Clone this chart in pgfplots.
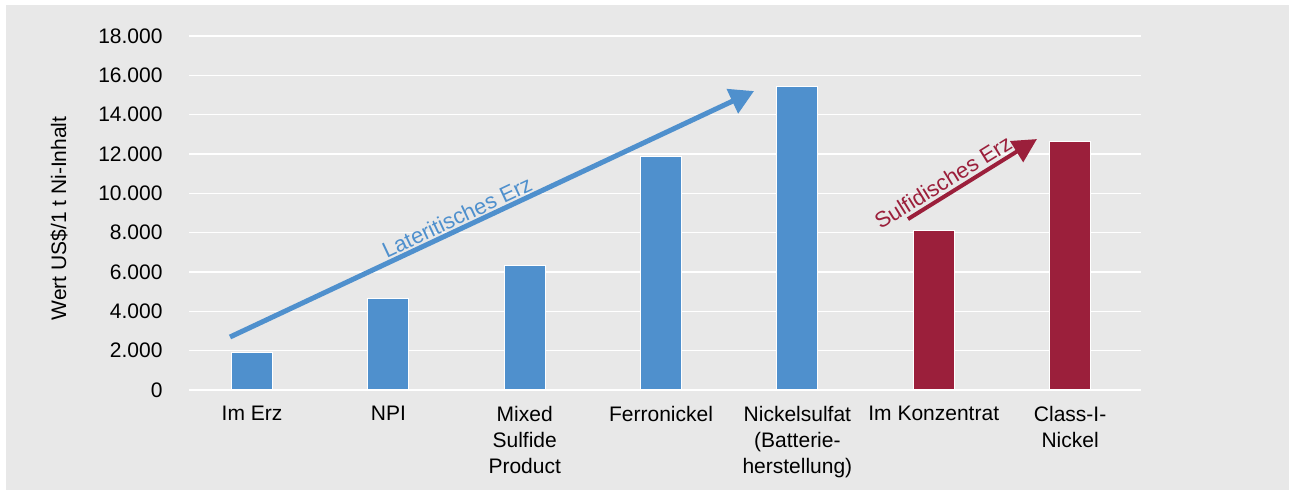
\documentclass[border=0pt]{standalone}
\usepackage{pgfplots}
\pgfplotsset{compat=1.18}
\usepackage{fontspec}
\setmainfont{Liberation Sans}
\usetikzlibrary{arrows.meta}
\definecolor{bgray}{RGB}{232,232,232}
\definecolor{nblue}{RGB}{79,144,205}
\definecolor{nred}{RGB}{155,31,59}
\begin{document}
\begin{tikzpicture}[x=1pt,y=1pt]
\fill[white] (0,0) rectangle (644.5,245.5);
\fill[bgray] (3,0.5) rectangle (644.5,243);
\begin{axis}[
  at={(94.5pt,50.5pt)}, anchor=south west,
  width=476pt, height=177pt, scale only axis,
  xmin=-0.462, xmax=6.52, ymin=0, ymax=18000,
  ytick={0,2000,...,18000},
  xtick={0,...,6},
  xticklabels={Im Erz, NPI, {Mixed\\Sulfide\\Product}, Ferronickel, {Nickelsulfat\\(Batterie-\\herstellung)}, Im Konzentrat, {Class-I-\\Nickel}},
  axis line style={draw=none},
  major tick length=0pt,
  ymajorgrids, grid style={white, line width=0.8pt},
  scaled y ticks=false,
  /pgf/number format/assume math mode=true,
  yticklabel style={/pgf/number format/.cd, 1000 sep={.}, /tikz/.cd, font=\fontsize{10.5}{13}\selectfont, xshift=-9.7pt},
  xticklabel style={align=center, font=\fontsize{10.5}{13}\selectfont, yshift=-4.5pt},
  ylabel={Wert US\$/1 t Ni-Inhalt},
  ylabel style={at={(axis description cs:-0.1366,0.4845)}, anchor=center, font=\fontsize{10.5}{13}\selectfont},
  clip=false,
]
\addplot[ybar, bar width=20.5pt, bar shift=0pt, fill=nblue, draw=white, line width=0.5pt]
  coordinates {(0,1900) (1,4630) (2,6330) (3,11860) (4,15450)};
\addplot[ybar, bar width=20.5pt, bar shift=0pt, fill=nred, draw=white, line width=0.5pt]
  coordinates {(5,8130) (6,12610)};
\draw[nblue, line width=2.5pt, -{Triangle[length=12pt,width=13pt]}] (axis cs:-0.161,2695) -- (axis cs:3.682,15200);
\draw[nred, line width=2pt, -{Triangle[length=12pt,width=12pt]}] (axis cs:4.811,8690) -- (axis cs:5.757,12760);
\node[nblue, rotate=25.2, font=\fontsize{11}{13}\selectfont] at (axis cs:1.504,8795) {Lateritisches Erz};
\node[nred, rotate=31.8, font=\fontsize{11}{13}\selectfont] at (axis cs:5.068,10575) {Sulfidisches Erz};
\end{axis}
\end{tikzpicture}
\end{document}
